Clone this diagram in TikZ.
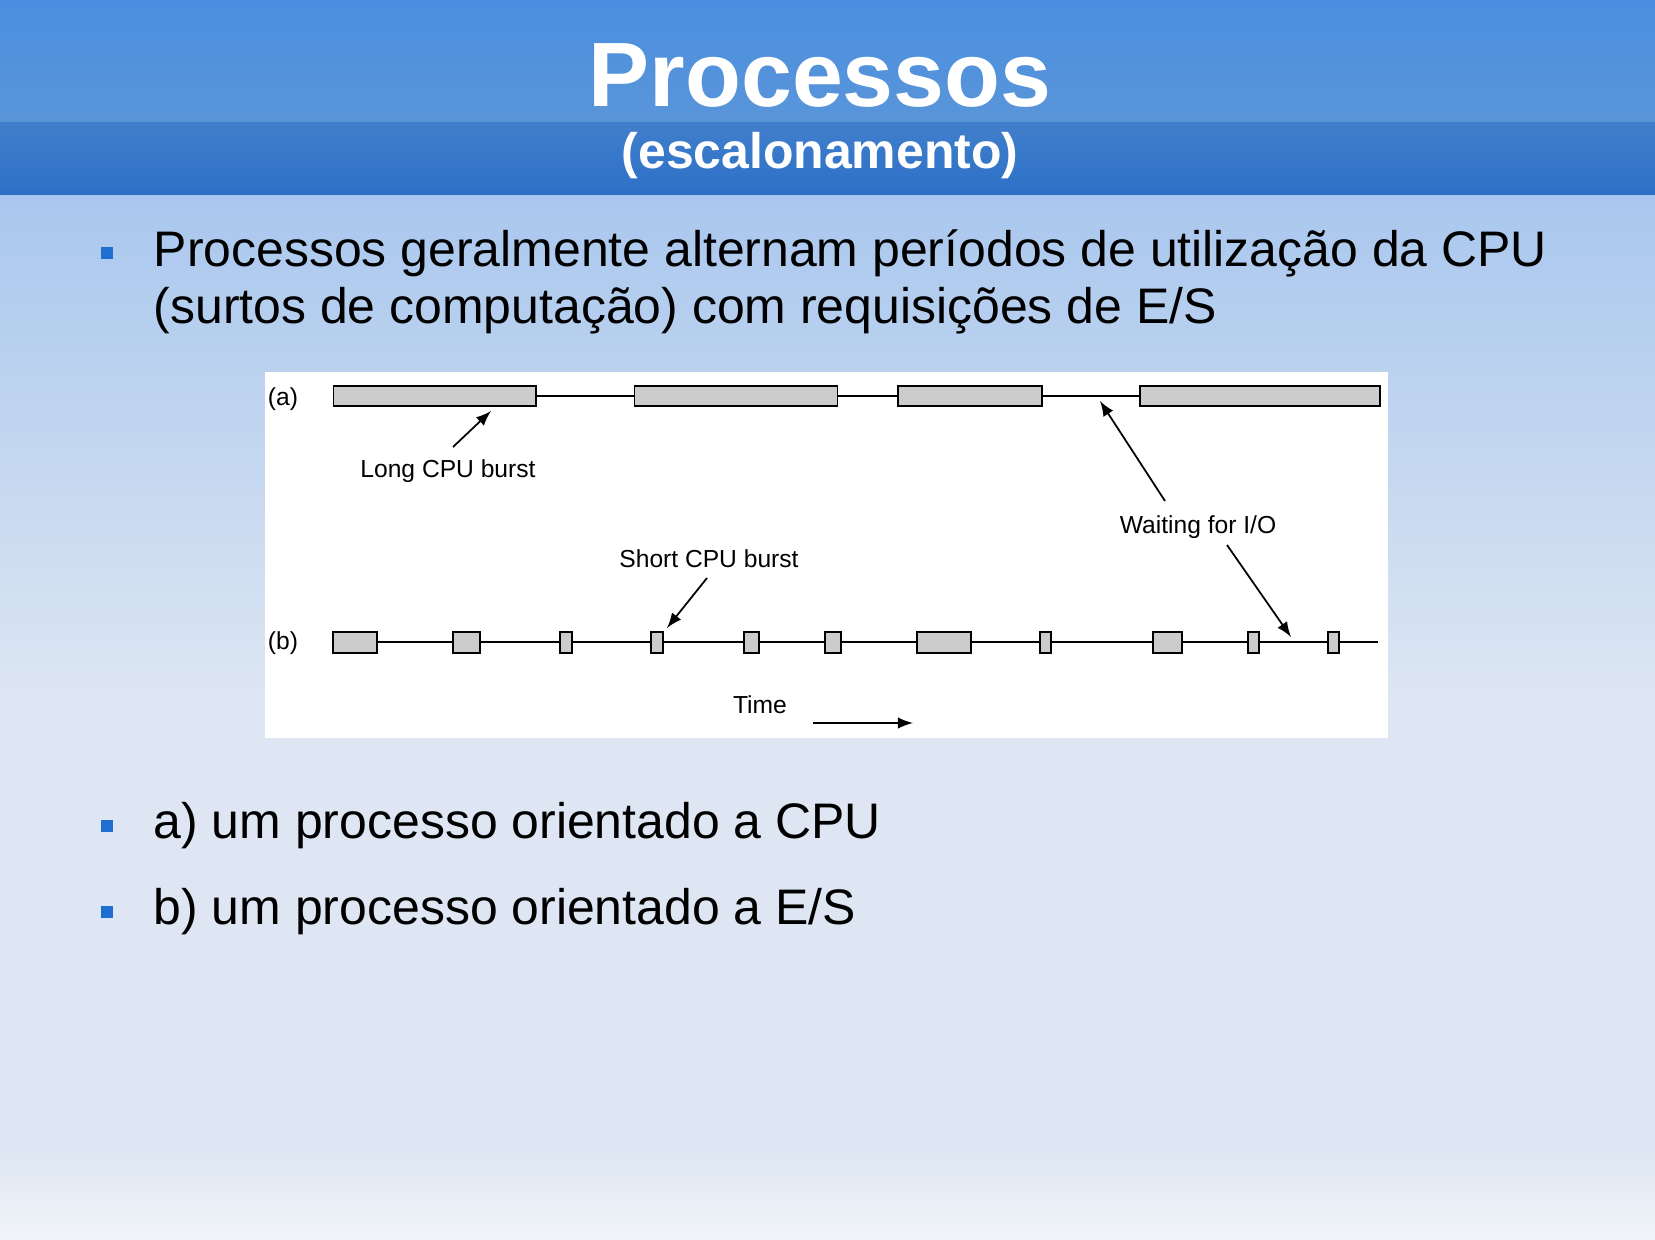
\documentclass[tikz,border=0pt]{standalone}
\usepackage{fontspec}
\setmainfont{Liberation Sans}
\usetikzlibrary{positioning}
\definecolor{hdtop}{HTML}{4A8FE0}
\definecolor{hdmid}{HTML}{5A95D8}
\definecolor{hdlow}{HTML}{2C70C6}
\definecolor{bgtop}{HTML}{A9C7EE}
\definecolor{bgmid}{HTML}{DDE6F2}
\definecolor{bullet}{HTML}{1F6FD0}
\tikzstyle{burst} = [draw=black, line width=0.5pt, fill=gray!40]
\tikzstyle{lbl} = [black, font=\fontsize{7}{8}\selectfont]
\tikzstyle{arrow} = [line width=0.5pt, -latex]
\tikzstyle{body} = [anchor=west, inner sep=0pt, font=\fontsize{14.2}{17}\selectfont, text=black]
\begin{document}
\begin{tikzpicture}[x=0.01cm, y=-0.01cm]
	% Background
	\shade[top color=bgtop, bottom color=bgmid] (0,195) rectangle (1655,700);
	\fill[bgmid] (0,700) rectangle (1655,1150);
	\shade[top color=bgmid, bottom color=white!60!bgmid] (0,1150) rectangle (1655,1240);
	\useasboundingbox (0,0) rectangle (1655,1240);
	
	% Header
	\shade[top color=hdtop, bottom color=hdmid] (0,0) rectangle (1655,123);
	\shade[top color=hdlow!90!white, bottom color=hdlow] (0,123) rectangle (1655,195);
	\node[text=white, font=\fontsize{26}{28}\selectfont\bfseries] (title) at (820,76) {Processos};
	\node[text=white, font=\fontsize{14.2}{16}\selectfont\bfseries] (subtitle) at (820,156) {(escalonamento)};
	
	% Bullets
	\foreach \y in {253,826,912}
		\fill[bullet] (101,\y-6) rectangle (113,\y+6);
	\node[body] (b1) at (153,253) {Processos geralmente alternam períodos de utilização da CPU};
	\node[body] (b1b) at (153,311) {(surtos de computação) com requisições de E/S};
	\node[body] (b2) at (153,826) {a) um processo orientado a CPU};
	\node[body] (b3) at (153,912) {b) um processo orientado a E/S};
	
	% Figure
	\fill[white] (265,372) rectangle (1388,738);
	\node[lbl] (la) at (283,399) {(a)};
	\node[lbl] (lb) at (283,643) {(b)};
	
	% Row a
	\draw[line width=0.5pt] (536,396) -- (1140,396);
	\foreach \l/\r in {333.5/536, 634.5/837.5, 898/1042, 1140/1380}
		\draw[burst] (\l,386) rectangle (\r,406);
	
	% Row b
	\draw[line width=0.5pt] (377,642) -- (1378,642);
	\foreach \l/\r in {333/377, 453/480, 560/572, 651/663, 744/759, 825/841, 917/971, 1040/1051, 1153/1182, 1248/1259, 1328/1339}
		\draw[burst] (\l,632) rectangle (\r,653);
	
	% Labels and arrows
	\node[lbl] (long) at (448,471) {Long CPU burst};
	\node[lbl] (wait) at (1198,527) {Waiting for I/O};
	\node[lbl] (short) at (709,559) {Short CPU burst};
	\node[lbl] (time) at (760,705) {Time};
	\coordinate (longT) at (491,411);
	\coordinate (waitA) at (1100,401);
	\coordinate (waitB) at (1291,637);
	\coordinate (shortT) at (667,628);
	\coordinate (timeA) at (813,723);
	\coordinate (timeB) at (913,723);
	\draw[arrow] (453,447) -- (longT);
	\draw[arrow] (1165,501) -- (waitA);
	\draw[arrow] (1227,545) -- (waitB);
	\draw[arrow] (707,578) -- (shortT);
	\draw[arrow] (timeA) -- (timeB);
\end{tikzpicture}
\end{document}
